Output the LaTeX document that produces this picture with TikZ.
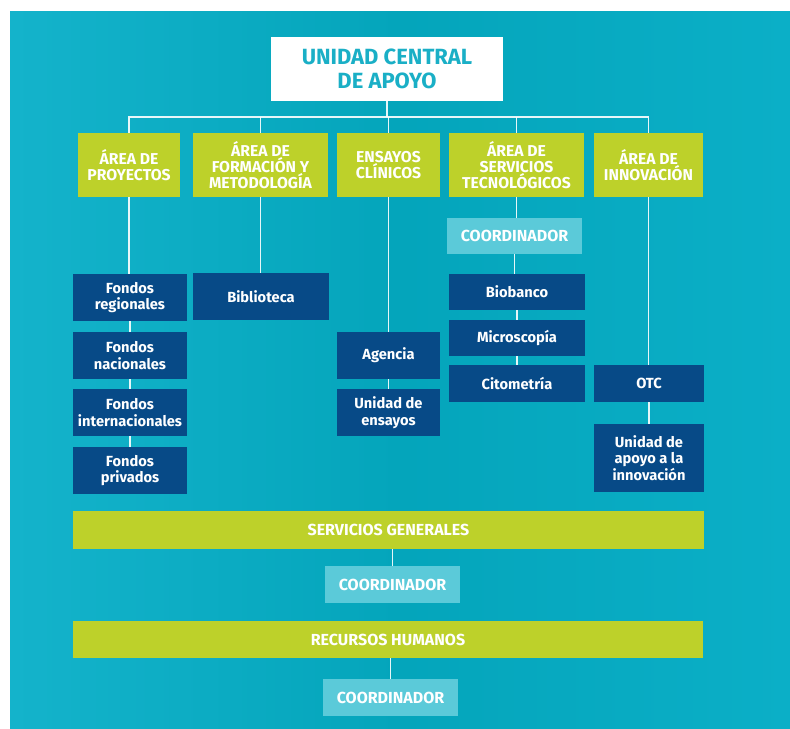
\documentclass[tikz,border=0pt]{standalone}
\usepackage{fontspec}
\setmainfont{Fira Sans}
\newfontfamily\hfont{Fira Sans}
\newfontfamily\bfont{Fira Sans}
\definecolor{bgL}{HTML}{14B3CB}
\definecolor{bgM}{HTML}{04A5BB}
\definecolor{bgR}{HTML}{0BAFC7}
\definecolor{lime}{HTML}{BDD12A}
\definecolor{navy}{HTML}{074A87}
\definecolor{light}{HTML}{5BCAD9}
\definecolor{teal}{HTML}{1AAFC6}
\tikzset{
  base/.style={inner sep=0pt, align=center, text=white},
  mainbox/.style={base, fill=white, text=teal, font=\hfont\bfseries\fontsize{16.5}{17.5}\selectfont},
  greenbox/.style={base, fill=lime, minimum height=64*0.75pt, font=\hfont\bfseries\fontsize{11.8}{12}\selectfont},
  bar/.style={base, fill=lime, font=\hfont\bfseries\fontsize{12}{12}\selectfont},
  navybox/.style={base, fill=navy, font=\bfont\bfseries\fontsize{11}{12.5}\selectfont},
  coordbox/.style={base, fill=light, font=\hfont\bfseries\fontsize{12}{13}\selectfont},
  link/.style={draw=white, line width=1.1pt, draw opacity=0.9},
}
\begin{document}
\begin{tikzpicture}[x=0.75pt,y=-0.75pt]
\useasboundingbox (0,0) rectangle (790,729);
\fill[white] (0,0) rectangle (790,729);
\shade[left color=bgL, right color=bgR, middle color=bgM] (10,11) rectangle (790,728);
% main
\node[mainbox, minimum width=232*0.75pt, minimum height=64*0.75pt] (main) at (387,69) {UNIDAD CENTRAL\\DE APOYO};
% green headers
\node[greenbox, minimum width=102*0.75pt] (g1) at (129,165) {ÁREA DE\\PROYECTOS};
\node[greenbox, minimum width=135*0.75pt] (g2) at (260.5,165) {ÁREA DE\\FORMACIÓN Y\\METODOLOGÍA};
\node[greenbox, minimum width=103*0.75pt] (g3) at (388.5,165) {ENSAYOS\\CLÍNICOS};
\node[greenbox, minimum width=135*0.75pt] (g4) at (516.5,165) {ÁREA DE\\SERVICIOS\\TECNOLÓGICOS};
\node[greenbox, minimum width=109*0.75pt] (g5) at (648.5,165) {ÁREA DE\\INNOVACIÓN};
\coordinate (bus) at (387,117);
% column 1
\node[navybox, minimum width=114*0.75pt, minimum height=47*0.75pt] (f1) at (130,297.5) {Fondos\\regionales};
\node[navybox, minimum width=114*0.75pt, minimum height=47*0.75pt] (f2) at (130,355.5) {Fondos\\nacionales};
\node[navybox, minimum width=114*0.75pt, minimum height=47*0.75pt] (f3) at (130,412.5) {Fondos\\internacionales};
\node[navybox, minimum width=114*0.75pt, minimum height=47*0.75pt] (f4) at (130,470.5) {Fondos\\privados};
% column 2
\node[navybox, minimum width=136*0.75pt, minimum height=47*0.75pt] (bib) at (261,296.5) {Biblioteca};
% column 3
\node[navybox, minimum width=103*0.75pt, minimum height=47*0.75pt] (age) at (388.5,355.5) {Agencia};
\node[navybox, minimum width=103*0.75pt, minimum height=47*0.75pt] (ens) at (388.5,412.5) {Unidad de\\ensayos};
% column 4
\node[coordbox, minimum width=135*0.75pt, minimum height=36*0.75pt] (c4) at (514.5,236) {COORDINADOR};
\node[navybox, minimum width=136*0.75pt, minimum height=36*0.75pt] (bio) at (517,292) {Biobanco};
\node[navybox, minimum width=136*0.75pt, minimum height=36*0.75pt] (mic) at (517,338) {Microscopía};
\node[navybox, minimum width=136*0.75pt, minimum height=37*0.75pt] (cit) at (517,383.5) {Citometría};
% column 5
\node[navybox, minimum width=110*0.75pt, minimum height=37*0.75pt] (otc) at (649,383.5) {OTC};
\node[navybox, minimum width=110*0.75pt, minimum height=68*0.75pt] (apo) at (649,458) {Unidad de\\apoyo a la\\innovación};
% bottom
\node[bar, minimum width=631*0.75pt, minimum height=38*0.75pt] (sg) at (388.5,530) {SERVICIOS GENERALES};
\node[coordbox, minimum width=135*0.75pt, minimum height=37*0.75pt] (csg) at (392.5,584.5) {COORDINADOR};
\node[bar, minimum width=630*0.75pt, minimum height=37*0.75pt] (rh) at (388,639.5) {RECURSOS HUMANOS};
\node[coordbox, minimum width=135*0.75pt, minimum height=37*0.75pt] (crh) at (390.5,697.5) {COORDINADOR};
% connectors
\draw[link] (main.south) -- (bus);
\draw[link] (g1.north) -- (g1.north |- bus) -- (g5.north |- bus) -- (g5.north);
\foreach \g in {g2,g3,g4} \draw[link] (\g.north) -- (\g.north |- bus);
\draw[link] (g1.south) -- (g1.south |- f1.north);
\draw[link] (f1.south) -- (f2.north);
\draw[link] (f2.south) -- (f3.north);
\draw[link] (f3.south) -- (f4.north);
\draw[link] (g2.south) -- (g2.south |- bib.north);
\draw[link] (g3.south) -- (g3.south |- age.north);
\draw[link] (age.south) -- (ens.north);
\draw[link] (g4.south) -- (g4.south |- c4.north);
\draw[link] (c4.south) -- (c4.south |- bio.north);
\draw[link] (bio.south) -- (mic.north);
\draw[link] (mic.south) -- (cit.north);
\draw[link] (g5.south) -- (g5.south |- otc.north);
\draw[link] (otc.south) -- (apo.north);
\draw[link] (csg.north |- sg.south) -- (csg.north);
\draw[link] (crh.north |- rh.south) -- (crh.north);
\end{tikzpicture}
\end{document}
